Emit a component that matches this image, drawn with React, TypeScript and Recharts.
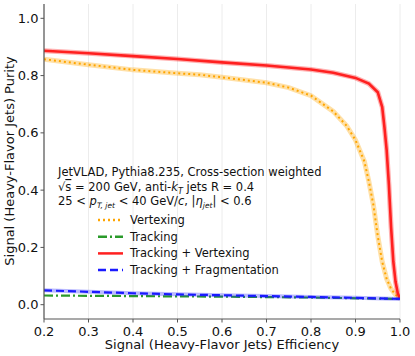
import React from 'react';
import { LineChart, Line, XAxis, YAxis, CartesianGrid, Customized } from 'recharts';

const vtxEff = [0.2, 0.3, 0.4, 0.5, 0.55, 0.6, 0.7, 0.75, 0.8, 0.85, 0.88, 0.9, 0.92, 0.93, 0.94, 0.95, 0.96, 0.97, 0.98, 0.99, 1.0];
const vtxPur = [0.857, 0.838, 0.82, 0.808, 0.803, 0.794, 0.775, 0.758, 0.73, 0.675, 0.625, 0.575, 0.5, 0.43, 0.35, 0.24, 0.15, 0.09, 0.055, 0.035, 0.02];

const tvEff = [0.2, 0.3, 0.4, 0.5, 0.6, 0.7, 0.8, 0.85, 0.9, 0.93, 0.95, 0.96, 0.965, 0.97, 0.975, 0.98, 0.985, 0.99, 0.995, 1.0];
const tvPur = [0.887, 0.878, 0.868, 0.858, 0.846, 0.835, 0.821, 0.81, 0.792, 0.772, 0.742, 0.69, 0.62, 0.54, 0.42, 0.27, 0.15, 0.08, 0.04, 0.02];

const trkEff = [0.2, 0.4, 0.6, 0.8, 1.0];
const trkPur = [0.032, 0.03, 0.028, 0.025, 0.02];

const tfEff = [0.2, 0.3, 0.4, 0.5, 0.6, 0.7, 0.8, 0.9, 1.0];
const tfPur = [0.05, 0.045, 0.04, 0.036, 0.033, 0.03, 0.027, 0.024, 0.02];

const xTicks = [0.2, 0.3, 0.4, 0.5, 0.6, 0.7, 0.8, 0.9, 1.0];
const yTicks = [0.0, 0.2, 0.4, 0.6, 0.8, 1.0];

const zip = (e: number[], p: number[]) => e.map((v, i) => ({ e: v, p: p[i] }));
const vtxData = zip(vtxEff, vtxPur);
const tvData = zip(tvEff, tvPur);
const trkData = zip(trkEff, trkPur);
const tfData = zip(tfEff, tfPur);

const FONT = 'DejaVu Sans';
const RED = '#ff2020';
const ORANGE = '#ffa500';
const GREEN = '#2a9a2a';
const BLUE = '#1a1aff';
const FRAME = '#555555';

const legendItems = [
  { label: 'Vertexing', color: ORANGE, dash: '2 3', width: 2.5 },
  { label: 'Tracking', color: GREEN, dash: '9 3 2 3', width: 2.5 },
  { label: 'Tracking + Vertexing', color: RED, dash: undefined, width: 2.5 },
  { label: 'Tracking + Fragmentation', color: BLUE, dash: '8 4', width: 2.5 },
];

const Overlay = () => (
  <g fontFamily={FONT} fill="#111">
    <text x={58} y={176} fontSize={11.5}>JetVLAD, Pythia8.235, Cross-section weighted</text>
    <text x={58} y={191} fontSize={11.5}>
      <tspan>√</tspan><tspan textDecoration="overline">s</tspan><tspan> = 200 GeV, anti-</tspan>
      <tspan fontStyle="italic">k</tspan><tspan fontSize={8} dy={3} fontStyle="italic">T</tspan>
      <tspan dy={-3}> jets R = 0.4</tspan>
    </text>
    <text x={58} y={205} fontSize={11.5}>
      <tspan>25 &lt; </tspan><tspan fontStyle="italic">p</tspan>
      <tspan fontSize={7.5} dy={3} fontStyle="italic">T, jet</tspan>
      <tspan dy={-3}> &lt; 40 GeV/</tspan><tspan fontStyle="italic">c</tspan>
      <tspan>, |</tspan><tspan fontStyle="italic">η</tspan>
      <tspan fontSize={7.5} dy={3} fontStyle="italic">jet</tspan>
      <tspan dy={-3}>| &lt; 0.6</tspan>
    </text>
    {legendItems.map((it, i) => {
      const y = 220 + i * 16.7;
      return (
        <g key={it.label}>
          <line x1={98} x2={123} y1={y} y2={y} stroke={it.color} strokeWidth={it.width} strokeDasharray={it.dash} />
          <text x={130} y={y + 4} fontSize={11.5}>{it.label}</text>
        </g>
      );
    })}
    <text x={222} y={349} fontSize={13} textAnchor="middle">Signal (Heavy-Flavor Jets) Efficiency</text>
    <text x={14} y={161} fontSize={13} textAnchor="middle" transform="rotate(-90 14 161)">Signal (Heavy-Flavor Jets) Purity</text>
  </g>
);

export default function App() {
  const tickStyle = { fontFamily: FONT, fontSize: 13, fill: '#111' };
  return (
    <div style={{ position: 'absolute', left: 0, top: 0, background: '#fff' }}>
      <LineChart width={415} height={356} margin={{ top: 4, right: 15, bottom: 0, left: 0 }}>
        <CartesianGrid horizontal={false} stroke="#ececec" strokeWidth={1} />
        <XAxis
          dataKey="e"
          type="number"
          domain={[0.2, 1.0]}
          ticks={xTicks}
          tickFormatter={(v: number) => v.toFixed(1)}
          allowDataOverflow
          height={37}
          tick={tickStyle}
          tickSize={3.5}
          tickMargin={4}
          axisLine={{ stroke: FRAME, strokeWidth: 1.2 }}
          tickLine={{ stroke: FRAME }}
        />
        <XAxis xAxisId="top" orientation="top" type="number" domain={[0.2, 1.0]} height={0} tick={false} tickLine={false} axisLine={{ stroke: FRAME, strokeWidth: 1.2 }} />
        <YAxis
          type="number"
          domain={[-0.05, 1.05]}
          ticks={yTicks}
          tickFormatter={(v: number) => v.toFixed(1)}
          allowDataOverflow
          width={44}
          tick={tickStyle}
          tickSize={3.5}
          tickMargin={2}
          axisLine={{ stroke: FRAME, strokeWidth: 1.2 }}
          tickLine={{ stroke: FRAME }}
        />
        <YAxis yAxisId="right" orientation="right" type="number" domain={[-0.05, 1.05]} width={0} tick={false} tickLine={false} axisLine={{ stroke: FRAME, strokeWidth: 1.2 }} />
        <Line data={vtxData} dataKey="p" stroke={ORANGE} strokeOpacity={0.35} strokeWidth={5} dot={false} activeDot={false} isAnimationActive={false} />
        <Line data={vtxData} dataKey="p" stroke={ORANGE} strokeWidth={2} strokeDasharray="2 3" dot={false} activeDot={false} isAnimationActive={false} />
        <Line data={trkData} dataKey="p" stroke={GREEN} strokeWidth={2.2} strokeDasharray="9 3 2 3" dot={false} activeDot={false} isAnimationActive={false} />
        <Line data={tvData} dataKey="p" stroke={RED} strokeOpacity={0.35} strokeWidth={5} dot={false} activeDot={false} isAnimationActive={false} />
        <Line data={tvData} dataKey="p" stroke={RED} strokeWidth={2.6} dot={false} activeDot={false} isAnimationActive={false} />
        <Line data={tfData} dataKey="p" stroke={BLUE} strokeOpacity={0.3} strokeWidth={4} dot={false} activeDot={false} isAnimationActive={false} />
        <Line data={tfData} dataKey="p" stroke={BLUE} strokeWidth={2.2} strokeDasharray="8 4" dot={false} activeDot={false} isAnimationActive={false} />
        <Customized component={Overlay} />
      </LineChart>
    </div>
  );
}
